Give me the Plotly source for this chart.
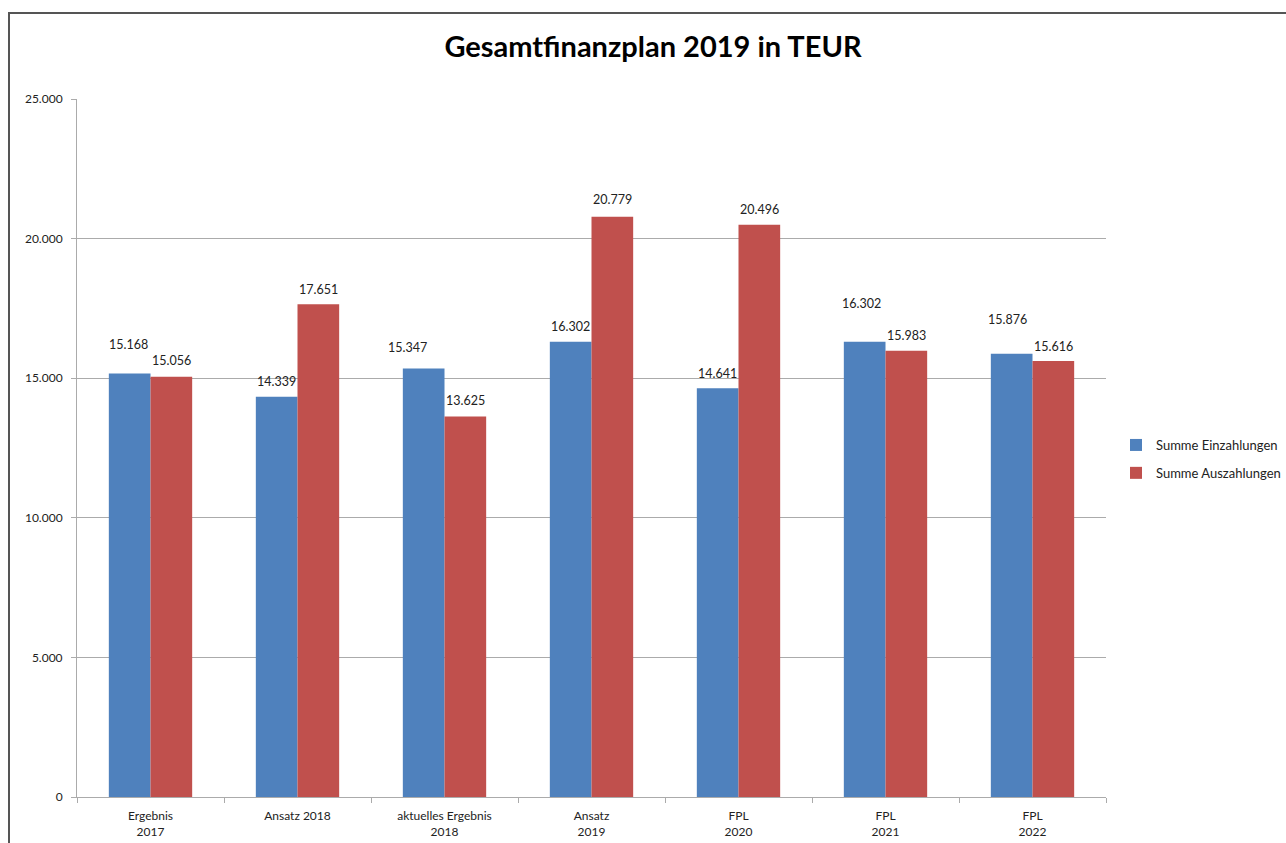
import plotly.graph_objects as go

categories = ["Ergebnis<br>2017", "Ansatz 2018", "aktuelles Ergebnis<br>2018", "Ansatz<br>2019", "FPL<br>2020", "FPL<br>2021", "FPL<br>2022"]
einzahlungen = [15168, 14339, 15347, 16302, 14641, 16302, 15876]
auszahlungen = [15056, 17651, 13625, 20779, 20496, 15983, 15616]
y_ticks = [0, 5000, 10000, 15000, 20000, 25000]

# label placement offsets in pixels (style only, as in the source chart)
ein_label_dy = [29, 15, 21, 15, 15, 38, 34]
ein_label_dx = [-1, 0, -16, 0, 0, -3, -4]
aus_label_dy = [16, 15, 16, 17, 15, 15, 15]
aus_label_dx = [0, 0, 0, 0, 0, 0, 0]

W, H = 1286, 843
L, R, T, B = 77, 1106, 99, 797
pw, ph = R - L, B - T
half_bar = 21

font = "Lato, Carlito, Calibri, sans-serif"

fig = go.Figure()
fig.add_trace(go.Bar(x=categories, y=einzahlungen, name="Summe Einzahlungen",
                     marker_color="#4F81BD", marker_line_width=0, legendgroup="a"))
fig.add_trace(go.Bar(x=categories, y=auszahlungen, name="Summe Auszahlungen",
                     marker_color="#C0504D", marker_line_width=0, legendgroup="b"))

def fmt(v):
    return f"{v:,}".replace(",", ".")

annotations = []
for cat, v, dx, dy in zip(categories, einzahlungen, ein_label_dx, ein_label_dy):
    annotations.append(dict(x=cat, y=v, xref="x", yref="y", text=fmt(v), showarrow=False,
                            xshift=-half_bar + dx, yshift=dy, xanchor="center", yanchor="middle",
                            font=dict(size=12.5, color="#222")))
for cat, v, dx, dy in zip(categories, auszahlungen, aus_label_dx, aus_label_dy):
    annotations.append(dict(x=cat, y=v, xref="x", yref="y", text=fmt(v), showarrow=False,
                            xshift=half_bar + dx, yshift=dy, xanchor="center", yanchor="middle",
                            font=dict(size=12.5, color="#222")))

fig.update_layout(
    width=W, height=H,
    margin=dict(l=L, r=W - R, t=T, b=H - B, pad=0),
    separators=",.",
    paper_bgcolor="white", plot_bgcolor="white",
    font=dict(family=font, size=12, color="#222"),
    title=dict(text="<b>Gesamtfinanzplan 2019 in TEUR</b>", x=653 / W, xanchor="center",
               y=1 - 47 / H, yanchor="middle", font=dict(size=29, color="#000")),
    barmode="group", bargap=0.433, bargroupgap=0,
    legend=dict(xref="container", yref="container", x=1.0, y=1 - 459 / H,
                xanchor="right", yanchor="middle",
                font=dict(size=13, color="#222"), tracegroupgap=8, itemwidth=30),
    showlegend=True,
    annotations=annotations,
)
fig.update_yaxes(range=[0, 25000], tickvals=y_ticks, tickformat=",d",
                 showgrid=True, gridcolor="#ababab", gridwidth=1,
                 showline=True, linecolor="#ababab", linewidth=1,
                 ticks="outside", ticklen=5, tickcolor="#ababab",
                 ticklabelstandoff=6, automargin=False,
                 zeroline=False, tickfont=dict(size=12))
fig.update_xaxes(showline=True, linecolor="#ababab", linewidth=1,
                 ticks="outside", ticklen=5, tickcolor="#ababab",
                 tickson="boundaries", showgrid=False, ticklabelstandoff=8,
                 automargin=False, tickfont=dict(size=12))

# outer frame of the chart area
fig.add_shape(type="rect", xref="paper", yref="paper",
              x0=(9 - L) / pw, x1=(W + 20 - L) / pw,
              y0=(B - (H + 20)) / ph, y1=(B - 13) / ph,
              line=dict(color="#555555", width=2), fillcolor="rgba(0,0,0,0)", layer="above")

fig.write_html("out.html", config={"displayModeBar": False},
               post_script="document.body.style.margin='0';document.body.style.overflow='hidden';")
